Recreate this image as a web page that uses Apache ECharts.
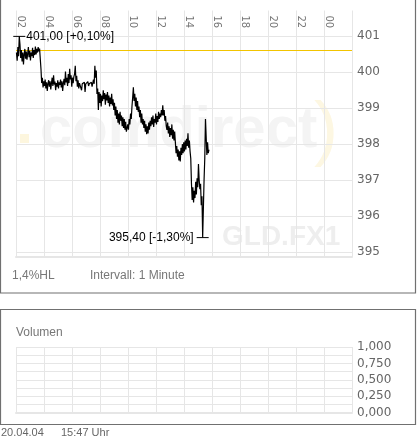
<!DOCTYPE html>
<html>
<head>
<meta charset="utf-8">
<script src="https://cdn.jsdelivr.net/npm/echarts@6/dist/echarts.min.js"></script>
<style>
html,body{margin:0;padding:0;background:#fff;}
#c{width:417px;height:443px;}
</style>
</head>
<body>
<div id="c"></div>
<script>
// ---- data ----
var hourTicks = [2,4,6,8,10,12,14,16,18,20,22,24,26];
var priceTicks = [395,396,397,398,399,400,401];
var volumeTicks = [0,0.25,0.5,0.75,1];
var prevClose = 400.60;
var startMinute = 122;   // 02:02
var stepMinutes = 3;
var prices = [
400.55,400.32,400.70,400.45,401.00,
400.78,400.40,400.62,400.30,400.55,400.22,400.50,400.65,400.38,400.58,400.35,400.52,400.70,400.42,400.60,400.33,400.55,400.45,400.68,400.40,400.62,400.48,400.72,400.50,400.65,400.55,400.70,400.58,400.66,400.62,
400.10,399.70,399.85,399.58,399.75,
399.62,399.80,399.55,399.72,399.48,399.68,399.78,399.60,399.75,399.52,399.70,399.85,399.62,399.92,399.66,399.74,399.50,399.70,399.60,399.78,399.55,399.72,399.65,399.80,399.58,399.75,399.48,399.70,399.82,399.64,400.02,399.72,399.85,399.62,399.95,399.70,400.10,399.80,399.92,399.60,399.85,399.70,399.88,
399.95,400.18,399.75,399.90,399.60,399.78,399.55,399.70,399.66,399.72,399.50,399.68,399.70,399.64,399.72,399.45,399.68,399.70,399.66,399.74,399.62,399.68,399.70,399.66,399.72,399.60,399.70,399.80,399.68,
400.18,399.85,400.05,399.40,
399.55,398.95,399.45,399.15,399.40,399.05,399.35,399.20,399.50,399.25,399.42,399.10,399.38,399.22,399.45,399.15,399.35,399.05,399.30,399.12,399.40,399.08,399.25,
398.95,399.15,398.80,399.05,398.70,398.95,398.60,398.85,398.55,398.90,398.65,398.80,398.50,398.75,398.45,398.70,398.40,398.62,398.35,398.30,
398.55,398.40,398.70,398.55,398.85,398.70,399.05,
399.30,399.58,399.20,399.40,399.05,399.30,398.95,399.20,398.90,
399.05,398.75,398.95,398.60,398.85,398.55,398.70,
398.45,398.65,398.35,398.55,398.28,398.50,398.30,398.60,398.40,398.65,
398.50,398.75,398.55,398.80,398.48,398.70,398.60,398.85,398.55,398.78,398.62,398.90,398.70,398.85,398.75,398.95,398.80,
399.08,398.80,398.95,398.65,398.78,398.50,
398.40,398.60,398.30,398.50,398.20,398.45,398.25,398.55,398.15,398.40,398.10,398.35,
398.05,397.75,397.95,397.65,397.85,397.55,397.80,
397.52,397.90,397.70,398.00,397.75,398.05,397.80,398.10,397.85,398.15,397.95,398.30,
397.90,398.10,397.80,397.60,
396.90,396.45,396.80,396.38,396.70,396.50,396.95,396.60,397.05,
396.80,397.45,397.00,396.75,
396.90,396.30,396.55,395.40,396.20,
397.00,397.60,398.70,398.20,
397.70,398.05,397.75,397.85
];
var volumes = [];

// ---- build ----
var priceData = prices.map(function(p, i){
  return [(startMinute + i * stepMinutes) / 60, p];
});
function deNum(v, d){ return v.toFixed(d).replace('.', ','); }
function markLabel(p){
  var v = p.value;
  var pct = (v - prevClose) / prevClose * 100;
  return deNum(v, 2) + ' [' + (pct >= 0 ? '+' : '') + deNum(pct, 2) + '%]';
}
var gridColor = '#e6e6e6';
var labelFont = 'DejaVu Sans';

var chart = echarts.init(document.getElementById('c'), null, {renderer: 'canvas'});
chart.setOption({
  animation: false,
  backgroundColor: '#fff',
  grid: [
    {left: 16, top: 10.5, width: 336, height: 246.5, containLabel: false, outerBoundsMode: 'none'},
    {left: 16, top: 347, width: 336, height: 65.5, containLabel: false, outerBoundsMode: 'none'}
  ],
  xAxis: [
    {gridIndex: 0, type: 'value', position: 'top', min: 2, max: 26, interval: 2,
     axisLine: {show: false}, axisTick: {show: false},
     splitLine: {show: true, lineStyle: {color: gridColor, width: 1}},
     axisLabel: {inside: true, rotate: 90, margin: 5, verticalAlign: 'bottom', color: '#777',
       fontFamily: labelFont, fontSize: 10, showMaxLabel: false, showMinLabel: true,
       formatter: function(v){ if (v >= 26) return ''; var h = v % 24; return (h < 10 ? '0' : '') + h; }}},
    {gridIndex: 0, type: 'value', position: 'bottom', min: 2, max: 26,
     axisLine: {show: true, lineStyle: {color: gridColor, width: 2}},
     axisTick: {show: false}, axisLabel: {show: false}, splitLine: {show: false}},
    {gridIndex: 1, type: 'value', position: 'bottom', min: 2, max: 26, interval: 2,
     axisLine: {show: true, lineStyle: {color: gridColor, width: 2}},
     axisTick: {show: false}, axisLabel: {show: false},
     splitLine: {show: true, lineStyle: {color: gridColor, width: 1}}}
  ],
  yAxis: [
    {gridIndex: 0, type: 'value', position: 'right', min: 394.86, max: 401.72,
     axisLine: {show: false},
     axisTick: {show: false, customValues: priceTicks},
     splitLine: {show: true, lineStyle: {color: gridColor, width: 1}},
     axisLabel: {customValues: priceTicks, margin: 5, color: '#666', fontFamily: labelFont, fontSize: 12,
       formatter: function(v){ return String(Math.round(v)); }}},
    {gridIndex: 1, type: 'value', position: 'right', min: 0, max: 1, interval: 0.125,
     axisLine: {show: false}, axisTick: {show: false},
     splitLine: {show: true, lineStyle: {color: gridColor, width: 1}},
     axisLabel: {margin: 5, color: '#666', fontFamily: labelFont, fontSize: 12, padding: [0, 0, 5, 0],
       showMinLabel: true, showMaxLabel: true,
       formatter: function(v){
         for (var k = 0; k < volumeTicks.length; k++) { if (Math.abs(v - volumeTicks[k]) < 1e-6) return deNum(v, 3); }
         return '';
       }}}
  ],
  graphic: [
    {type: 'group', z: -10, children: [
      {type: 'rect', shape: {x: 20, y: 134, width: 9, height: 9}, style: {fill: '#fdf6de'}},
      {type: 'text', style: {x: 40, y: 131, text: 'comdirect', font: 'bold 58px "Liberation Sans"', fill: '#f4f4f4', verticalAlign: 'middle', textVerticalAlign: 'middle'}},
      {type: 'text', style: {x: 314, y: 132, text: ')', font: 'normal 72px "Liberation Sans"', fill: '#fdf7e2', verticalAlign: 'middle', textVerticalAlign: 'middle'}},
      {type: 'text', style: {x: 222, y: 237, text: 'GLD.FX1', font: 'bold 28px "Liberation Sans"', fill: '#eeeeee', verticalAlign: 'middle', textVerticalAlign: 'middle'}}
    ]},
    {type: 'rect', z: 100, shape: {x: 0.5, y: -2, width: 415, height: 295}, style: {fill: 'none', stroke: '#707070', lineWidth: 1.2}},
    {type: 'rect', z: 100, shape: {x: 0.5, y: 309.5, width: 415, height: 115}, style: {fill: 'none', stroke: '#707070', lineWidth: 1.2}},
    {type: 'text', z: 100, style: {x: 12, y: 276, text: '1,4%HL', font: '12px "Liberation Sans"', fill: '#777', verticalAlign: 'middle', textVerticalAlign: 'middle'}},
    {type: 'text', z: 100, style: {x: 90, y: 276, text: 'Intervall: 1 Minute', font: '12px "Liberation Sans"', fill: '#777', verticalAlign: 'middle', textVerticalAlign: 'middle'}},
    {type: 'text', z: 100, style: {x: 16, y: 333, text: 'Volumen', font: '12px "Liberation Sans"', fill: '#777', verticalAlign: 'middle', textVerticalAlign: 'middle'}},
    {type: 'text', z: 100, style: {x: 1, y: 433, text: '20.04.04', font: '11px "Liberation Sans"', fill: '#666', verticalAlign: 'middle', textVerticalAlign: 'middle'}},
    {type: 'text', z: 100, style: {x: 61, y: 433, text: '15:47 Uhr', font: '11px "Liberation Sans"', fill: '#666', verticalAlign: 'middle', textVerticalAlign: 'middle'}}
  ],
  series: [
    {type: 'line', xAxisIndex: 0, yAxisIndex: 0, data: priceData, showSymbol: false, symbol: 'none',
     lineStyle: {color: '#000', width: 1.2}, z: 5,
     markLine: {silent: true, symbol: 'none', label: {show: false},
       lineStyle: {color: '#f2c400', width: 1, type: 'solid'},
       data: [{yAxis: prevClose}]},
     markPoint: {silent: true, symbol: 'rect', symbolSize: [12, 1],
       itemStyle: {color: '#000'},
       label: {show: true, color: '#000', fontFamily: 'Liberation Sans', fontSize: 12, formatter: markLabel},
       data: [
         {type: 'max', label: {position: 'right', distance: 1}},
         {type: 'min', label: {position: 'left', distance: 3}}
       ]}},
    {type: 'bar', xAxisIndex: 2, yAxisIndex: 1, data: volumes, itemStyle: {color: '#000'}}
  ]
});
</script>
</body>
</html>
